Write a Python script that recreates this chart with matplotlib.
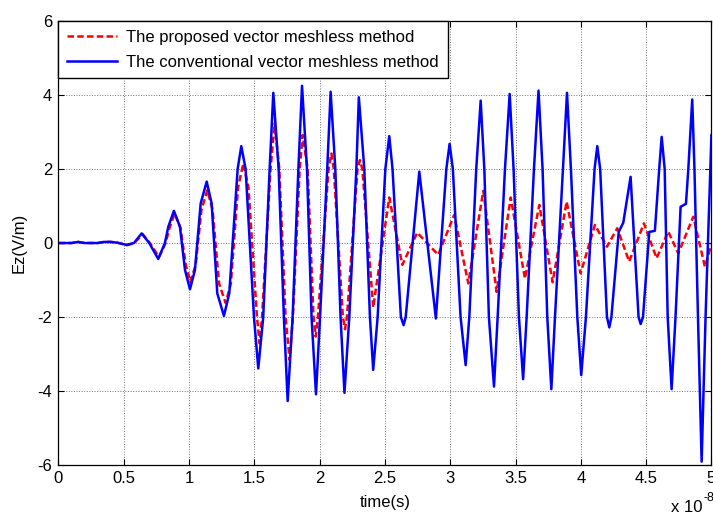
import matplotlib
matplotlib.use('Agg')
from matplotlib import pyplot as plt

plt.rcParams['font.family'] = ['Liberation Sans', 'DejaVu Sans']
plt.rcParams['axes.unicode_minus'] = False

# time in units of 1e-8 s, field in V/m (extrema and grid crossings)
t_conv = [0, 0.1, 0.15, 0.2, 0.3, 0.35, 0.4, 0.45, 0.52, 0.578, 0.637, 0.695,
          0.764, 0.815, 0.841, 0.884, 0.930, 0.969, 1.007, 1.045, 1.089, 1.135,
          1.173, 1.216, 1.267, 1.308, 1.372, 1.40, 1.433, 1.497, 1.53, 1.568,
          1.617, 1.645, 1.686, 1.726, 1.755, 1.793, 1.837, 1.865, 1.903, 1.938,
          1.972, 2.003, 2.058, 2.084, 2.120, 2.160, 2.19, 2.227, 2.281, 2.30,
          2.342, 2.385, 2.41, 2.444, 2.503, 2.533, 2.558, 2.622, 2.643, 2.659,
          2.763, 2.89, 2.970, 2.995, 3.020, 3.079, 3.118, 3.146, 3.199, 3.233,
          3.261, 3.296, 3.335, 3.363, 3.419, 3.455, 3.485, 3.526, 3.558, 3.585,
          3.641, 3.676, 3.707, 3.743, 3.774, 3.802, 3.863, 3.894, 3.924, 3.973,
          4.003, 4.039, 4.105, 4.126, 4.148, 4.200, 4.218, 4.234, 4.29, 4.325,
          4.381, 4.442, 4.458, 4.476, 4.524, 4.567, 4.600, 4.619, 4.642, 4.665,
          4.695, 4.725, 4.764, 4.805, 4.823, 4.853, 4.870, 4.897, 4.925, 4.955,
          5.0]
ez_conv = [0, 0.0, 0.03, 0.0, 0.0, 0.03, 0.03, 0.01, -0.05, 0.0, 0.26, 0.0,
           -0.43, 0.0, 0.44, 0.87, 0.44, -0.73, -1.25, -0.73, 1.07, 1.66,
           1.07, -1.36, -1.97, -1.36, 2.0, 2.62, 2.0, -2.0, -3.39, -2.0,
           2.0, 4.06, 2.0, -2.0, -4.27, -2.0, 2.0, 4.25, 2.0, -2.0,
           -4.09, -2.0, 2.0, 4.09, 2.0, -2.0, -4.05, -2.0, 2.0, 3.94,
           2.0, -2.0, -3.43, -2.0, 2.0, 2.89, 2.0, -2.0, -2.22, -2.0,
           1.93, -2.04, 2.0, 2.68, 2.0, -2.0, -3.30, -2.0, 2.0, 3.85,
           2.0, -2.0, -3.88, -2.0, 2.0, 4.03, 2.0, -2.0, -3.68, -2.0,
           2.0, 4.12, 2.0, -2.0, -3.95, -2.0, 2.0, 4.06, 2.0, -2.0,
           -3.57, -2.0, 2.0, 2.62, 2.0, -2.0, -2.28, -2.0, 0.3, 0.55,
           1.79, -2.0, -2.19, -2.0, 0.3, 0.33, 2.0, 2.87, 2.0, -2.0,
           -3.95, -2.0, 0.98, 1.06, 2.0, 3.88, 2.0, -2.0, -5.91, -2.0,
           2.92]

t_prop = [0, 0.1, 0.15, 0.2, 0.3, 0.35, 0.4, 0.45, 0.525, 0.58, 0.645, 0.70,
          0.77, 0.82, 0.85, 0.89, 0.935, 0.975, 1.01, 1.05, 1.095, 1.14, 1.18,
          1.23, 1.28, 1.32, 1.375, 1.415, 1.455, 1.520, 1.54, 1.559, 1.624,
          1.655, 1.691, 1.739, 1.77, 1.795, 1.847, 1.87, 1.908, 1.953, 1.97,
          1.987, 2.068, 2.09, 2.108, 2.178, 2.194, 2.209, 2.290, 2.308, 2.327,
          2.41, 2.533, 2.633, 2.747, 2.908, 3.03, 3.138, 3.253, 3.355, 3.463,
          3.572, 3.682, 3.784, 3.891, 3.998, 4.108, 4.20, 4.279, 4.37, 4.483,
          4.58, 4.669, 4.746, 4.861, 4.95, 5.0]
ez_prop = [0, 0.0, 0.03, 0.0, 0.0, 0.03, 0.03, 0.01, -0.06, 0.0, 0.24, 0.0,
           -0.38, 0.0, 0.4, 0.8, 0.4, -0.6, -1.05, -0.6, 0.9, 1.43, 0.9,
           -1.1, -1.62, -1.1, 1.5, 2.15, 1.5, -2.0, -2.71, -2.0, 2.0,
           3.23, 2.0, -2.0, -3.16, -2.0, 2.0, 2.92, 2.0, -2.0, -2.53,
           -2.0, 2.0, 2.42, 2.0, -2.0, -2.33, -2.0, 2.0, 2.24, 2.0,
           -1.74, 1.23, -0.59, 0.28, -0.32, 0.76, -1.09, 1.41, -1.32, 1.23,
           -0.96, 1.03, -1.06, 1.12, -0.82, 0.49, -0.10, 0.40, -0.5, 0.53,
           -0.41, 0.31, -0.28, 0.71, -0.64, -0.05]

fig = plt.figure(figsize=(7.13, 5.15), dpi=100)
ax = fig.add_axes([0.082, 0.0971, 0.9158, 0.862])

ax.plot(t_prop, ez_prop, color='r', linewidth=1.8, linestyle='--',
        dashes=(2.6, 1.3), solid_joinstyle='round',
        label='The proposed vector meshless method')
ax.plot(t_conv, ez_conv, color='b', linewidth=1.8, solid_joinstyle='round',
        label='The conventional vector meshless method')

ax.set_xlim(0, 5)
ax.set_ylim(-6, 6)
ax.set_xticks([0, 0.5, 1, 1.5, 2, 2.5, 3, 3.5, 4, 4.5, 5])
ax.set_xticklabels(['0', '0.5', '1', '1.5', '2', '2.5', '3', '3.5', '4', '4.5', '5'])
ax.set_yticks([-6, -4, -2, 0, 2, 4, 6])
ax.tick_params(direction='in', length=4, width=0.8, labelsize=12,
               top=True, right=True, pad=4.5)
ax.grid(True, color='0.45', linestyle=':', linewidth=0.7)
for s in ax.spines.values():
    s.set_linewidth(0.9)

ax.set_xlabel('time(s)', fontsize=12, labelpad=6)
ax.set_ylabel('Ez(V/m)', fontsize=12, labelpad=8)

fig.text(671 / 713, 1 - 515 / 515, 'x 10', fontsize=12, va='bottom')
fig.text(703 / 713, 1 - 504 / 515, '-8', fontsize=9, va='bottom')

leg = ax.legend(loc='upper left', bbox_to_anchor=(0, 1), borderaxespad=0,
                fancybox=False, edgecolor='k', framealpha=1, fontsize=12,
                handlelength=3.0, handletextpad=0.55, labelspacing=0.58,
                borderpad=0.53)
leg.get_frame().set_linewidth(1.0)

fig.savefig('out.png', dpi=100)
